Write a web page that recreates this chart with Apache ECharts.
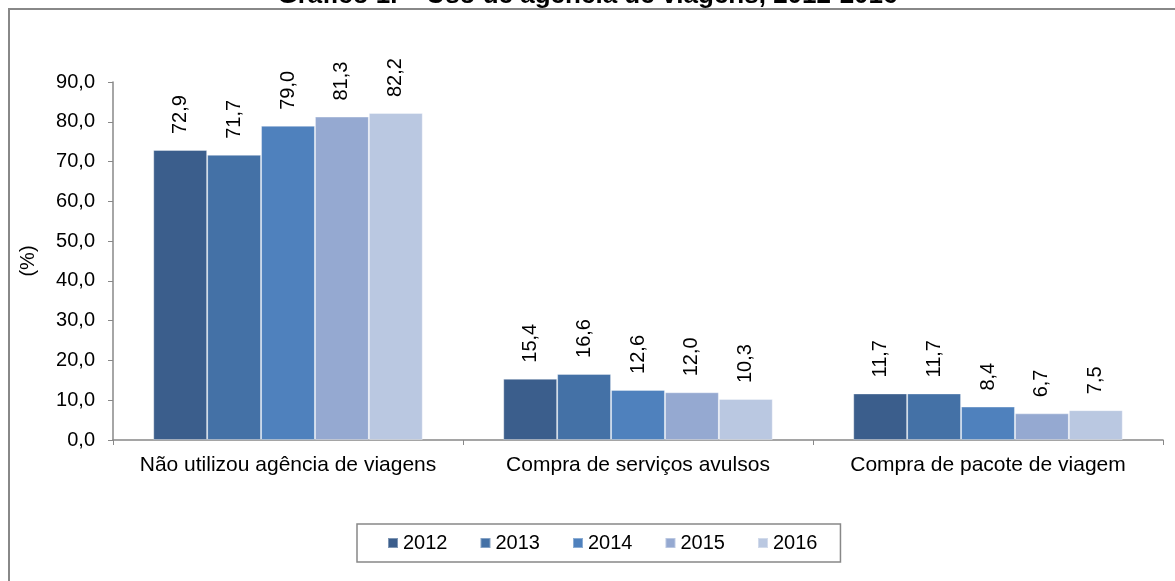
<!DOCTYPE html>
<html>
<head>
<meta charset="utf-8">
<script src="https://cdn.jsdelivr.net/npm/echarts@6/dist/echarts.min.js"></script>
<style>
  html, body { margin: 0; padding: 0; background: #fff; }
  #chart { width: 1175px; height: 581px; }
</style>
</head>
<body>
<div id="chart"></div>
<script>
// categories and values
const categories = ['Não utilizou agência de viagens', 'Compra de serviços avulsos', 'Compra de pacote de viagem'];
const years = ['2012', '2013', '2014', '2015', '2016'];
const v2012 = [72.9, 15.4, 11.7];
const v2013 = [71.7, 16.6, 11.7];
const v2014 = [79.0, 12.6, 8.4];
const v2015 = [81.3, 12.0, 6.7];
const v2016 = [82.2, 10.3, 7.5];
const colors = ['#3B5E8C', '#4471A6', '#4F81BD', '#95A9D1', '#BAC8E1'];

const allValues = [v2012, v2013, v2014, v2015, v2016];
const font = 'Liberation Sans, Arial, sans-serif';
const comma = v => v.toFixed(1).replace('.', ',');

const chart = echarts.init(document.getElementById('chart'));

const series = years.map((y, i) => ({
    name: y,
    type: 'bar',
    data: allValues[i],
    barGap: '0%',
    barCategoryGap: '23%',
    itemStyle: { color: colors[i], borderColor: 'rgba(255,255,255,0.35)', borderWidth: 1 },
    label: {
        show: true,
        position: 'top',
        rotate: 90,
        align: 'left',
        verticalAlign: 'middle',
        distance: 16,
        fontFamily: font,
        fontSize: 20,
        color: '#000',
        formatter: p => comma(p.value)
    }
}));

const option = {
    color: colors,
    animation: false,
    title: {
        text: 'Gráfico 1. – Uso de agência de viagens, 2012-2016',
        left: 'center',
        top: -22,
        textStyle: { fontFamily: font, fontSize: 26, fontWeight: 'bold', color: '#000' }
    },
    graphic: [{
        type: 'rect',
        shape: { x: 9, y: 9, width: 1180, height: 600 },
        style: { fill: 'none', stroke: '#888', lineWidth: 2 },
        silent: true
    }],
    legend: {
        data: years,
        left: 357,
        top: 524,
        padding: [9, 23, 9, 30],
        itemGap: 32,
        itemWidth: 10,
        itemHeight: 10,
        icon: 'rect',
        borderColor: '#888',
        borderWidth: 1.5,
        textStyle: { fontFamily: font, fontSize: 20, color: '#000' }
    },
    grid: { left: 113, right: 12, top: 82, bottom: 141 },
    xAxis: {
        type: 'category',
        data: categories,
        axisLine: { lineStyle: { color: '#888', width: 1.5 } },
        axisTick: { show: true, alignWithLabel: false, length: 5, lineStyle: { color: '#888' } },
        axisLabel: { interval: 0, hideOverlap: false, fontFamily: font, fontSize: 21, color: '#000', margin: 15 }
    },
    yAxis: {
        type: 'value',
        min: 0,
        max: 90,
        interval: 10,
        name: '(%)',
        nameLocation: 'middle',
        nameGap: 75,
        nameRotate: 90,
        nameTextStyle: { fontFamily: font, fontSize: 20, color: '#000' },
        splitLine: { show: false },
        axisLine: { show: true, lineStyle: { color: '#888', width: 1.5 } },
        axisTick: { show: true, length: 5, lineStyle: { color: '#888' } },
        axisLabel: { fontFamily: font, fontSize: 20, color: '#000', margin: 18, formatter: v => comma(v) }
    },
    series: series
};

chart.setOption(option);
</script>
</body>
</html>
